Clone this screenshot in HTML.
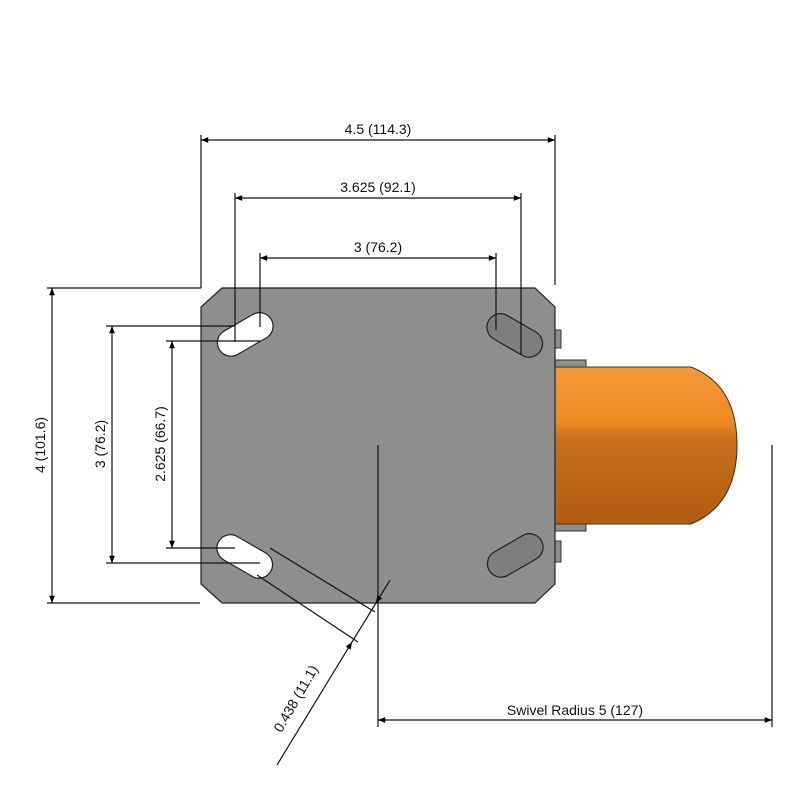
<!DOCTYPE html>
<html><head><style>body{margin:0;background:#fff}svg{display:block}</style></head><body>
<svg width="800" height="800" viewBox="0 0 800 800" xmlns="http://www.w3.org/2000/svg" font-family="Liberation Sans, sans-serif" font-size="14">
<defs>
<linearGradient id="og" x1="0" y1="0" x2="0" y2="1">
<stop offset="0" stop-color="#f59a3a"/><stop offset="0.35" stop-color="#ee8a22"/><stop offset="0.45" stop-color="#c8701a"/><stop offset="1" stop-color="#b25c12"/>
</linearGradient>
<marker id="ar" viewBox="0 0 10 10" refX="10" refY="5" markerWidth="9" markerHeight="6" orient="auto-start-reverse"><path d="M0,1 L10,5 L0,9 Z" fill="#000"/></marker>
</defs>
<rect x="555" y="360" width="31" height="171" fill="#8e8e8e" stroke="#333"/>
<path d="M555,367 H691 Q737,385 737,445 Q737,505 691,524 H555 Z" fill="url(#og)" stroke="#333"/>
<rect x="555" y="330" width="6" height="18" fill="#8e8e8e" stroke="#333"/>
<rect x="555" y="541" width="6" height="21" fill="#8e8e8e" stroke="#333"/>
<path d="M222,288 H535 L555,307 V584 L535,603 H222 L201,584 V307 Z" fill="#8e8e8e" stroke="#222" stroke-width="1.2"/>
<g stroke="#222" stroke-width="1.2">
<rect x="215" y="321" width="60" height="27" rx="13.5" fill="#fff" transform="rotate(-30 245 334)"/>
<rect x="215" y="543" width="60" height="27" rx="13.5" fill="#fff" transform="rotate(30 245 556)"/>
<rect x="485" y="322" width="60" height="27" rx="13.5" fill="#7e7e7e" transform="rotate(30 515 335)"/>
<rect x="485" y="542" width="60" height="27" rx="13.5" fill="#7e7e7e" transform="rotate(-30 515 555)"/>
</g>
<g stroke="#111" stroke-width="1.2" fill="none">
<line x1="201" y1="135" x2="201" y2="288"/><line x1="555" y1="135" x2="555" y2="285"/>
<line x1="201" y1="140" x2="555" y2="140" marker-start="url(#ar)" marker-end="url(#ar)"/>
<line x1="235" y1="193" x2="235" y2="342"/><line x1="521" y1="193" x2="521" y2="355"/>
<line x1="235" y1="198" x2="521" y2="198" marker-start="url(#ar)" marker-end="url(#ar)"/>
<line x1="260" y1="253" x2="260" y2="327"/><line x1="496" y1="253" x2="496" y2="330"/>
<line x1="260" y1="258" x2="496" y2="258" marker-start="url(#ar)" marker-end="url(#ar)"/>
<line x1="47" y1="288" x2="201" y2="288"/><line x1="47" y1="603" x2="200" y2="603"/>
<line x1="52" y1="288" x2="52" y2="603" marker-start="url(#ar)" marker-end="url(#ar)"/>
<line x1="106" y1="326" x2="235" y2="326"/><line x1="106" y1="563" x2="260" y2="563"/>
<line x1="112" y1="326" x2="112" y2="563" marker-start="url(#ar)" marker-end="url(#ar)"/>
<line x1="166" y1="341" x2="260" y2="341"/><line x1="166" y1="548" x2="235" y2="548"/>
<line x1="172" y1="341" x2="172" y2="548" marker-start="url(#ar)" marker-end="url(#ar)"/>
<line x1="378" y1="445" x2="378" y2="727"/><line x1="772" y1="445" x2="772" y2="727"/>
<line x1="378" y1="720" x2="772" y2="720" marker-start="url(#ar)" marker-end="url(#ar)"/>
<line x1="270" y1="548" x2="375" y2="612"/>
<line x1="257" y1="575" x2="358" y2="642"/>
<line x1="277" y1="765" x2="352" y2="642" marker-end="url(#ar)"/>
<line x1="390" y1="580" x2="376" y2="603" marker-end="url(#ar)"/>
<line x1="376" y1="603" x2="352" y2="642"/>
</g>
<g fill="#111" text-anchor="middle">
<text x="378" y="134">4.5 (114.3)</text>
<text x="378" y="192">3.625 (92.1)</text>
<text x="378" y="252">3 (76.2)</text>
<text x="575" y="715">Swivel Radius 5 (127)</text>
<text transform="translate(45 445) rotate(-90)">4 (101.6)</text>
<text transform="translate(105 444) rotate(-90)">3 (76.2)</text>
<text transform="translate(165 444) rotate(-90)">2.625 (66.7)</text>
<text transform="translate(300 701) rotate(-60)">0.438 (11.1)</text>
</g>
</svg>
</body></html>
